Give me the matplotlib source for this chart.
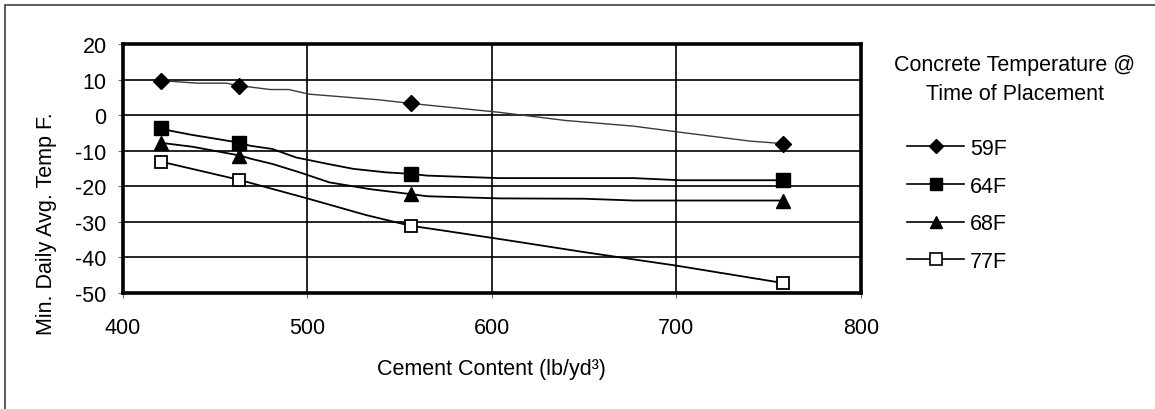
import matplotlib
matplotlib.use('Agg')
import matplotlib.pyplot as plt
from matplotlib.lines import Line2D
from matplotlib.patches import Rectangle

plt.rcParams['font.family'] = ['Liberation Sans', 'DejaVu Sans']
plt.rcParams['axes.unicode_minus'] = False

# cement content at the marked points (lb/yd3)
cement = [421, 463, 556, 758]

# marked values, min daily avg temp (F)
t59 = [9.7, 8.3, 3.3, -8.0]
t64 = [-3.7, -7.8, -16.5, -18.3]
t68 = [-7.8, -11.4, -22.2, -24.0]
t77 = [-13.1, -18.3, -31.1, -47.2]

# the curves as drawn between the marks
x59 = [421, 440, 456, 463, 480, 490, 501, 539, 556, 604, 640, 677, 702, 740, 758]
y59 = [9.7, 9.0, 9.0, 8.3, 7.2, 7.2, 5.9, 4.3, 3.3, 0.8, -1.5, -3.1, -4.8, -7.3, -8.0]
x64 = [421, 426, 437, 464, 469, 481, 494, 511, 525, 543, 556, 565, 604, 677, 702, 758]
y64 = [-3.7, -4.4, -5.5, -7.8, -8.6, -9.5, -11.9, -13.7, -15.1, -16.1, -16.5, -17.0, -17.7, -17.7, -18.3, -18.3]
x68 = [421, 438, 464, 469, 481, 496, 512, 534, 556, 565, 604, 650, 677, 758]
y68 = [-7.8, -8.9, -11.4, -12.2, -13.7, -16.1, -18.9, -20.8, -22.2, -22.8, -23.4, -23.5, -24.0, -24.0]
x77 = [421, 464, 478, 500, 532, 556, 568, 604, 650, 700, 758]
y77 = [-13.1, -18.3, -20.3, -23.4, -28.1, -31.1, -32.0, -34.8, -38.5, -42.3, -47.2]

labels = ['59F', '64F', '68F', '77F']

fs = 15.5
fig = plt.figure(figsize=(11.55, 4.10), dpi=100)
ax = fig.add_axes([122.7/1155, 1-294/410, 738/1155, 249/410])

ax.grid(True, color='black', lw=1.2)
ax.set_axisbelow(True)

ax.plot(x59, y59, color='#3a3a3a', lw=1.0)
ax.plot(cement, t59, ls='none', marker='D', ms=8, color='black')
ax.plot(x64, y64, color='black', lw=1.3)
ax.plot(cement, t64, ls='none', marker='s', ms=10, color='black')
ax.plot(x68, y68, color='black', lw=1.3)
ax.plot(cement, t68, ls='none', marker='^', ms=10, color='black')
ax.plot(x77, y77, color='black', lw=1.3)
ax.plot(cement, t77, ls='none', marker='s', ms=8.5, mfc='white',
        mec='black', mew=1.3)

ax.set_xlim(400, 800)
ax.set_ylim(-50, 20)
ax.set_xticks(range(400, 801, 100))
ax.set_yticks(range(-50, 21, 10))
for s in ax.spines.values():
    s.set_linewidth(2.6)
ax.tick_params(axis='both', direction='out', length=3.6, width=0.8,
               color='#707070', labelsize=fs)
ax.tick_params(axis='y', pad=8)
ax.tick_params(axis='x', pad=14)

ax.set_xlabel('Cement Content (lb/yd³)', fontsize=fs, va='center')
ax.xaxis.set_label_coords(0.5, (294-370)/249)
ax.set_ylabel('Min. Daily Avg. Temp F.', fontsize=fs, va='center')
ax.yaxis.set_label_coords((46.7-122.7)/738, (294-224)/249)

# legend (handles in the legend are all plain black lines)
fig.text(1015/1155, 1-66/410, 'Concrete Temperature @', ha='center',
         va='center', fontsize=fs)
fig.text(1015/1155, 1-95/410, 'Time of Placement', ha='center',
         va='center', fontsize=fs)
handles = [
    Line2D([], [], color='black', lw=1.2, marker='D', ms=7),
    Line2D([], [], color='black', lw=1.2, marker='s', ms=9),
    Line2D([], [], color='black', lw=1.2, marker='^', ms=9),
    Line2D([], [], color='black', lw=1.2, marker='s', ms=8, mfc='white',
           mew=1.2),
]
ax.legend(handles, labels, loc='upper left',
          bbox_to_anchor=(907/1155, 1-139/410),
          bbox_transform=fig.transFigure, frameon=False, fontsize=fs,
          borderpad=0, borderaxespad=0, handlelength=2.65,
          handletextpad=0.28, labelspacing=0.77, numpoints=1)

# chart area border (only top and left are in frame)
fig.add_artist(Rectangle((4.7/1155, -0.5), 2, 0.5+1-5.7/410,
                         transform=fig.transFigure, fill=False,
                         ec='#404040', lw=1.2))

fig.savefig('out.png', dpi=100)
